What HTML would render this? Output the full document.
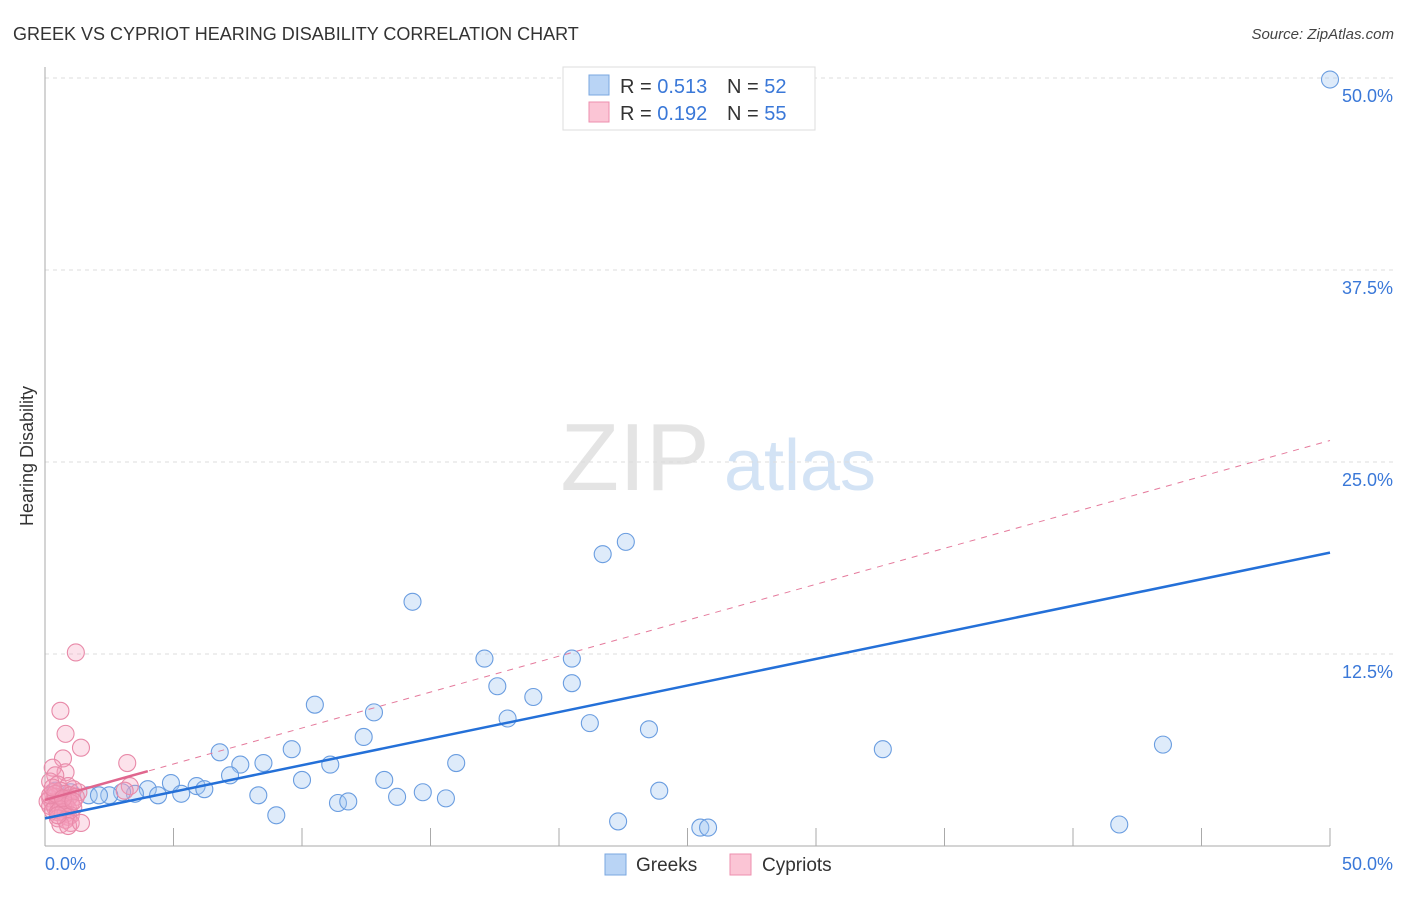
<!DOCTYPE html>
<html><head><meta charset="utf-8"><style>
body{margin:0;background:#fff;font-family:"Liberation Sans",sans-serif}
svg text{font-family:"Liberation Sans",sans-serif}
</style></head><body>
<svg width="1406" height="892">
<text x="13" y="40" font-size="18" fill="#333">GREEK VS CYPRIOT HEARING DISABILITY CORRELATION CHART</text>
<text x="1394" y="39" font-size="15" fill="#444" text-anchor="end" font-style="italic">Source: ZipAtlas.com</text>
<text x="635" y="490" font-size="96" fill="#e4e4e4" font-family="Liberation Serif" text-anchor="middle">ZIP</text>
<text x="800" y="490" font-size="72" fill="#d3e3f5" text-anchor="middle">atlas</text>
<g id="grid"></g><g id="axes"></g><g id="pts"></g><g id="lines"></g>
<text x="33" y="456" font-size="18" fill="#333" text-anchor="middle" transform="rotate(-90 33 456)">Hearing Disability</text>
<g>
<rect x="563" y="67" width="252" height="63" fill="#fff" stroke="#ddd"/>
<rect x="589" y="75" width="20" height="20" fill="#b9d4f5" stroke="#7aa7e0"/>
<rect x="589" y="102" width="20" height="20" fill="#fbc5d5" stroke="#ee8fae"/>
<text x="620" y="93" font-size="20" fill="#333">R = <tspan fill="#3a78d8">0.513</tspan></text>
<text x="727" y="93" font-size="20" fill="#333">N = <tspan fill="#3a78d8">52</tspan></text>
<text x="620" y="120" font-size="20" fill="#333">R = <tspan fill="#3a78d8">0.192</tspan></text>
<text x="727" y="120" font-size="20" fill="#333">N = <tspan fill="#3a78d8">55</tspan></text>
</g>
<g>
<rect x="605" y="854" width="21" height="21" fill="#b9d4f5" stroke="#7aa7e0"/>
<text x="636" y="871" font-size="19" fill="#333">Greeks</text>
<rect x="730" y="854" width="21" height="21" fill="#fbc5d5" stroke="#ee8fae"/>
<text x="762" y="871" font-size="19" fill="#333">Cypriots</text>
</g>
</svg>
<script>
const yTicks=[12.5,25,37.5,50];
const yTickLabels=["12.5%","25.0%","37.5%","50.0%"];
const greeksX=[50,22.6,21.7,14.3,17.1,20.5,17.6,20.5,19.0,10.5,12.8,18.0,21.2,23.5,12.4,6.8,9.6,32.6,43.5,7.6,8.5,11.1,16.0,7.2,10.0,13.2,4.9,5.9,6.2,4.0,23.9,5.3,4.4,14.7,8.3,13.7,15.6,11.4,11.8,9.0,22.3,25.5,25.8,41.8,3.5,3.0,2.5,1.7,2.1,1.0,0.4,0.6];
const greeksY=[49.9,19.8,19.0,15.9,12.2,12.2,10.4,10.6,9.7,9.2,8.7,8.3,8.0,7.6,7.1,6.1,6.3,6.3,6.6,5.3,5.4,5.3,5.4,4.6,4.3,4.3,4.1,3.9,3.7,3.7,3.6,3.4,3.3,3.5,3.3,3.2,3.1,2.8,2.9,2.0,1.6,1.2,1.2,1.4,3.4,3.5,3.3,3.3,3.3,3.5,3.6,3.0];
const cypX=[1.2,0.6,0.8,1.4,0.7,3.2,0.8,0.3,0.4,3.3,3.1,0.2,0.5,0.9,1.1,0.3,0.6,0.8,1.0,1.3,0.2,0.4,0.7,0.9,1.2,0.1,0.3,0.5,0.6,0.8,1.0,0.2,0.4,0.7,0.9,1.1,0.3,0.5,0.6,0.8,1.0,0.2,0.4,0.7,0.9,0.5,0.8,1.0,0.6,0.9,0.3,0.7,1.1,0.5,1.4];
const cypY=[12.6,8.8,7.3,6.4,5.7,5.4,4.8,5.1,4.6,3.9,3.6,4.2,4.0,3.9,3.7,3.5,3.6,3.4,3.3,3.5,3.1,3.2,3.0,3.1,3.2,2.9,2.8,2.9,3.0,2.7,2.8,2.6,2.5,2.6,2.4,2.5,2.3,2.2,2.4,2.1,2.0,3.3,3.4,2.2,1.9,1.8,1.7,1.5,1.4,1.3,3.8,3.1,2.9,2.0,1.5];
const blueLine=[1.8,19.1];
const pinkLine=[3.0,26.4];
const X=v=>45+v*25.7, Y=v=>846-v*15.36;
const NS="http://www.w3.org/2000/svg";
function mk(t,a,p){const e=document.createElementNS(NS,t);for(const k in a)e.setAttribute(k,a[k]);document.getElementById(p).appendChild(e);return e;}
yTicks.forEach((v,i)=>{
 const l=mk('line',{x1:45,x2:1395,y1:Y(v),y2:Y(v),stroke:'#ddd','stroke-dasharray':'4 4'},'grid');
 
 
 const t=mk('text',{x:1393,y:Y(v)+24,'font-size':18,fill:'#3a78d8','text-anchor':'end'},'grid');t.textContent=yTickLabels[i];
 
 
});
const ax=mk('line',{x1:45,x2:45,y1:67,y2:846,stroke:'#aaa'},'axes');


const bx=mk('line',{x1:45,x2:1330,y1:846,y2:846,stroke:'#aaa'},'axes');


for(let v=5;v<=50;v+=5){const t=mk('line',{x1:X(v),x2:X(v),y1:828,y2:846,stroke:'#aaa'},'axes');
 
 }
[["0.0%",45,'start'],["50.0%",1393,'end']].forEach(a=>{const t=mk('text',{x:a[1],y:870,'font-size':18,fill:'#3a78d8','text-anchor':a[2]},'axes');t.textContent=a[0];
 
 });
greeksX.forEach((v,i)=>{const c=mk('circle',{cx:X(v),cy:Y(greeksY[i]),r:8.5,fill:'rgba(160,198,242,0.35)',stroke:'#6a9de0','stroke-width':1.1},'pts');
 
 });
cypX.forEach((v,i)=>{const c=mk('circle',{cx:X(v),cy:Y(cypY[i]),r:8.5,fill:'rgba(245,160,188,0.3)',stroke:'#e889a8','stroke-width':1.1},'pts');
 
 });
const pd=mk('line',{x1:X(0),y1:Y(pinkLine[0]),x2:X(50),y2:Y(pinkLine[1]),stroke:'#e57a9c','stroke-dasharray':'6 6','stroke-width':1},'lines');


const ps=mk('line',{x1:X(0),y1:Y(pinkLine[0]),x2:X(4),y2:Y(pinkLine[0]+(pinkLine[1]-pinkLine[0])*4/50),stroke:'#e0668e','stroke-width':2.5},'lines');


const bl=mk('line',{x1:X(0),y1:Y(blueLine[0]),x2:X(50),y2:Y(blueLine[1]),stroke:'#2470d8','stroke-width':2.5},'lines');


</script>
</body></html>
